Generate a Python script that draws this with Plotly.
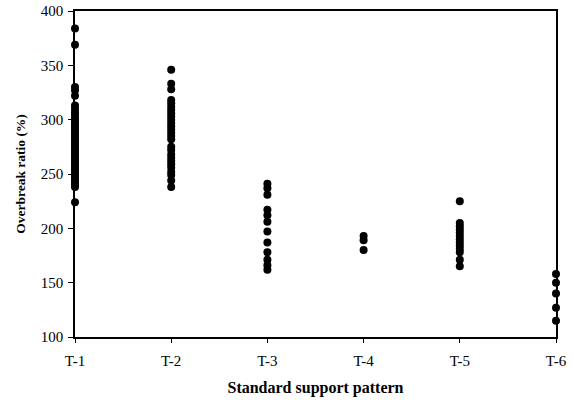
import plotly.graph_objects as go

categories = ["T-1", "T-2", "T-3", "T-4", "T-5", "T-6"]

t1 = [384, 369, 330, 327, 322, 313, 310, 307, 305, 302, 300, 298, 296, 294, 292,
      290, 288, 286, 284, 282, 280, 278, 276, 274, 272, 270, 268, 266, 264, 262,
      260, 258, 256, 254, 252, 250, 248, 246, 244, 242, 240, 238, 224]
t2 = [346, 333, 328, 318, 315, 312, 309, 306, 303, 300, 297, 294, 291, 288, 285,
      282, 275, 272, 268, 265, 262, 259, 256, 252, 249, 244, 238]
t3 = [241, 237, 231, 217, 212, 206, 197, 187, 178, 171, 166, 162]
t4 = [193, 189, 180]
t5 = [225, 205, 202, 199, 196, 193, 190, 187, 184, 181, 178, 171, 165]
t6 = [158, 150, 140, 127, 115]

series = [t1, t2, t3, t4, t5, t6]

xs, ys = [], []
for cat, vals in zip(categories, series):
    xs += [cat] * len(vals)
    ys += vals

fig = go.Figure(go.Scatter(
    x=xs, y=ys, mode="markers",
    marker=dict(color="black", size=8),
    cliponaxis=False, showlegend=False,
))

font_family = "Liberation Serif, Times New Roman, serif"
fig.update_layout(
    width=573, height=405,
    margin=dict(l=75, r=17, t=11, b=68, autoexpand=False),
    paper_bgcolor="white", plot_bgcolor="white",
    font=dict(family=font_family, size=15, color="black"),
    xaxis=dict(
        type="category", categoryorder="array", categoryarray=categories,
        range=[0, 5], showgrid=False, zeroline=False, automargin=False,
        showline=True, linecolor="black", linewidth=1.5, mirror=True,
        ticks="outside", ticklen=4, tickcolor="black", tickwidth=1,
        ticklabelstandoff=5,
        title=dict(text="<b>Standard support pattern</b>", standoff=14,
                   font=dict(size=16)),
    ),
    yaxis=dict(
        range=[100, 400], tickvals=[100, 150, 200, 250, 300, 350, 400],
        showgrid=False, zeroline=False, automargin=False,
        showline=True, linecolor="black", linewidth=1.5, mirror=True,
        ticks="outside", ticklen=5, tickcolor="black", tickwidth=1,
        ticklabelstandoff=2,
        title=dict(text="<b>Overbreak ratio (%)</b>", standoff=12,
                   font=dict(size=13.5)),
    ),
)

fig.write_html(
    "out.html",
    config={"displayModeBar": False},
    post_script="document.body.style.margin='0';document.body.style.overflow='hidden';",
)
